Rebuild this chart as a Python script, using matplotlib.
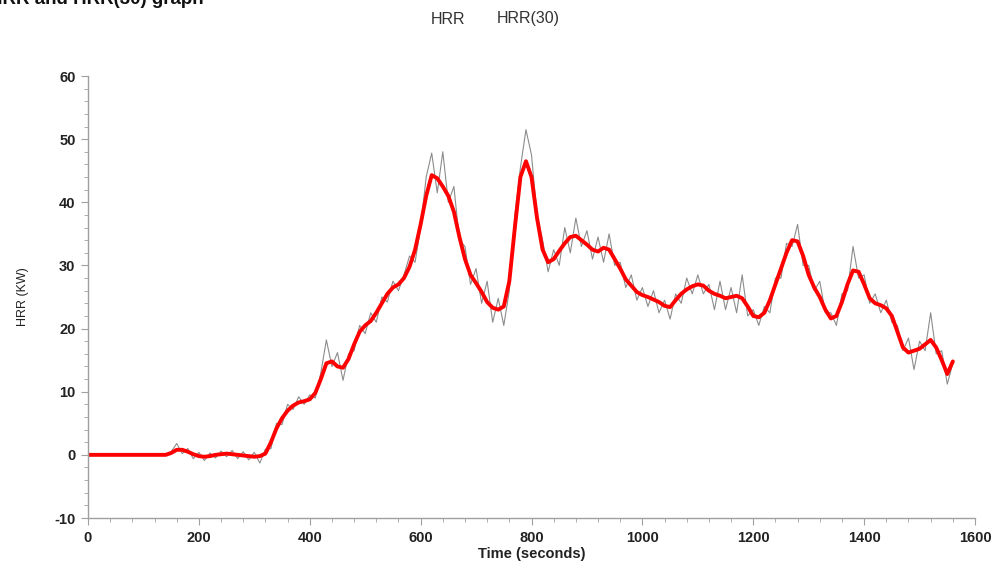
import numpy as np
import matplotlib
matplotlib.use('Agg')
import matplotlib.pyplot as plt
from matplotlib.ticker import MultipleLocator

plt.rcParams['font.family'] = ['Liberation Sans', 'DejaVu Sans']
plt.rcParams['axes.unicode_minus'] = False

# time axis, one sample every 10 s
time_s = np.arange(0, 1570, 10)

# raw heat release rate (KW)
hrr = [0, 0, 0, 0, 0, 0, 0, 0, 0, 0, 0, 0, 0, 0, 0,
       0.5, 1.8, 0.2, 1.0, -0.6, 0.4, -0.9, 0.3, -0.5, 0.6,
       -0.3, 0.7, -0.6, 0.5, -0.8, 0.4, -1.3, 0.9, 1.0, 5.0,
       4.8, 8.0, 7.2, 9.2, 8.0, 9.5, 9.0, 13.0, 18.2, 14.0,
       16.2, 11.8, 16.0, 16.5, 20.5, 19.2, 22.5, 21.0, 25.0, 24.2,
       27.5, 26.0, 28.5, 31.5, 30.5, 36.0, 44.0, 47.8, 41.5, 48.0,
       40.0, 42.5, 34.0, 33.0, 27.0, 29.5, 24.0, 27.5, 21.0, 24.8,
       20.5, 26.0, 38.0, 45.5, 51.5, 47.5, 38.0, 34.0, 29.0, 32.5,
       30.0, 36.0, 32.0, 37.5, 33.0, 35.5, 31.0, 34.5, 30.5, 35.0,
       30.0, 30.5, 26.5, 28.5, 24.5, 26.5, 23.5, 26.0, 22.5, 24.5,
       21.5, 25.5, 24.0, 28.0, 25.5, 28.5, 25.5, 27.0, 23.0, 27.5,
       23.0, 26.5, 22.5, 28.5, 22.0, 23.0, 20.5, 23.5, 22.5, 28.0,
       28.0, 33.5, 33.0, 36.5, 30.0, 30.0, 26.0, 27.5, 22.5, 22.5,
       20.5, 25.5, 26.0, 33.0, 28.0, 28.5, 24.0, 25.5, 22.5, 24.5,
       21.0, 20.5, 16.5, 18.5, 13.5, 18.0, 16.5, 22.5, 16.0, 16.5,
       11.2, 14.5]

# 30 s averaged HRR
hrr30 = [0, 0, 0, 0, 0, 0, 0, 0, 0, 0, 0, 0, 0, 0, 0,
         0.3, 0.8, 0.8, 0.5, 0.1, -0.2, -0.3, -0.2, 0.0, 0.1,
         0.2, 0.1, 0.0, -0.1, -0.2, -0.3, -0.2, 0.2, 2.0, 4.2,
         5.8, 7.0, 7.8, 8.3, 8.5, 8.8, 9.8, 12.0, 14.5, 14.8,
         14.0, 13.8, 15.2, 17.5, 19.5, 20.5, 21.2, 22.5, 24.0, 25.5,
         26.5, 27.0, 28.0, 29.8, 32.5, 36.5, 41.0, 44.3, 43.8, 42.5,
         41.0, 38.5, 34.5, 31.0, 28.5, 27.2, 25.8, 24.2, 23.3, 23.0,
         23.5, 27.5, 36.0, 44.0, 46.5, 44.0, 37.5, 32.5, 30.5, 31.0,
         32.3, 33.5, 34.5, 34.7, 34.0, 33.3, 32.5, 32.2, 32.8, 32.5,
         31.0, 29.5, 27.8, 26.8, 25.8, 25.3, 25.0, 24.6, 24.2, 23.6,
         23.4, 24.5, 25.5, 26.2, 26.7, 27.0, 26.8, 26.0, 25.5, 25.2,
         24.8, 25.0, 25.2, 24.8, 23.5, 22.0, 21.8, 22.5, 24.5, 27.0,
         29.5, 32.0, 34.0, 33.8, 31.5, 28.5, 26.5, 25.0, 23.0, 21.6,
         22.0, 24.2, 27.0, 29.2, 29.0, 27.0, 24.8, 24.0, 23.7, 23.2,
         22.0, 19.5, 17.0, 16.2, 16.5, 16.8, 17.5, 18.2, 17.0, 15.0,
         12.8, 14.8]

fig = plt.figure(figsize=(9.92, 5.68), dpi=100)
ax = fig.add_axes([88 / 992, 50 / 568, 887 / 992, 442 / 568])

ax.plot(time_s, hrr, color='#8c8c8c', lw=0.8)
ax.plot(time_s, hrr30, color='#ff0000', lw=2.8, solid_capstyle='round',
        solid_joinstyle='round')

ax.set_xlim(0, 1600)
ax.set_ylim(-10, 60)
ax.xaxis.set_major_locator(MultipleLocator(200))
ax.xaxis.set_minor_locator(MultipleLocator(40))
ax.yaxis.set_major_locator(MultipleLocator(10))
ax.yaxis.set_minor_locator(MultipleLocator(2))

for s in ['top', 'right']:
    ax.spines[s].set_visible(False)
for s in ['left', 'bottom']:
    ax.spines[s].set_color('#a0a0a0')
    ax.spines[s].set_linewidth(1.0)

ax.tick_params(which='major', length=5, color='#a0a0a0', labelsize=10.5,
               labelcolor='#222222', pad=4)
ax.tick_params(which='minor', length=3, color='#a0a0a0')
for lab in ax.get_xticklabels() + ax.get_yticklabels():
    lab.set_fontweight('bold')

ax.set_xlabel('Time (seconds)', fontsize=10.5, fontweight='bold', color='#222222', labelpad=2)
ax.set_ylabel('HRR (KW)', fontsize=9, color='#222222', labelpad=18)

# legend entries (text only) and cropped title
fig.text(431 / 992, 1 - 19 / 568, 'HRR', fontsize=11.5, color='#333333', va='center')
fig.text(497 / 992, 1 - 19 / 568, 'HRR(30)', fontsize=11.5, color='#333333', va='center')
fig.text(-11 / 992, 1 - 4 / 568, 'HRR and HRR(30) graph', fontsize=13.5,
         fontweight='bold', color='#111111', va='baseline')

fig.savefig('out.png', dpi=100)
